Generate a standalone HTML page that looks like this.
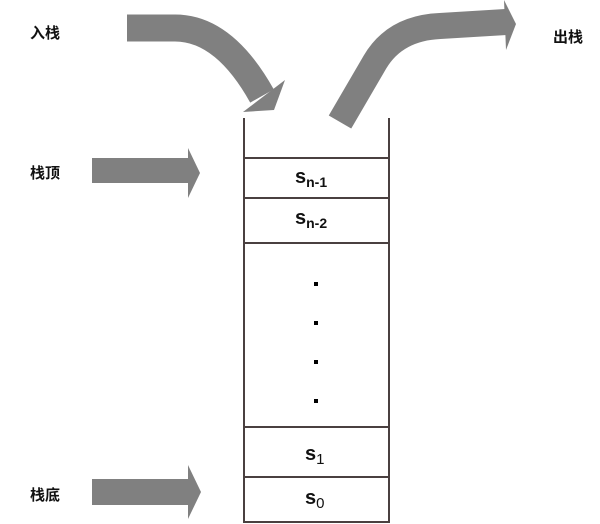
<!DOCTYPE html>
<html><head><meta charset="utf-8"><style>
body{margin:0;background:#fff;}
svg{display:block}
text{font-family:"Liberation Sans","Noto Sans CJK SC",sans-serif;}
</style></head><body>
<svg width="600" height="524" viewBox="0 0 600 524" xmlns="http://www.w3.org/2000/svg">
<g fill="#808080" stroke="none">
<path d="M127 28 L175 28 Q224 28 262 96" fill="none" stroke="#808080" stroke-width="27"/>
<polygon points="243,112 285,80 274,110"/>
<path d="M340 122 L375 62 Q395 28 440 26 L506 22" fill="none" stroke="#808080" stroke-width="26"/>
<polygon points="504,0 516,24 506,50"/>
<rect x="92" y="158" width="99" height="25"/>
<polygon points="188,148 200,173 188,198"/>
<rect x="92" y="479" width="99" height="26"/>
<polygon points="188,465 201,492 188,519"/>
</g>
<rect x="230" y="112" width="60" height="8" fill="#fff"/>
<g stroke="#4a4040" stroke-width="2" fill="none">
<line x1="244" y1="118" x2="244" y2="523"/>
<line x1="389" y1="118" x2="389" y2="523"/>
<line x1="244" y1="158" x2="389" y2="158"/>
<line x1="244" y1="198" x2="389" y2="198"/>
<line x1="244" y1="243" x2="389" y2="243"/>
<line x1="244" y1="427" x2="389" y2="427"/>
<line x1="244" y1="477" x2="389" y2="477"/>
<line x1="244" y1="522" x2="389" y2="522"/>
</g>
<g fill="#000">
<rect x="314" y="282" width="4" height="4"/>
<rect x="314" y="321" width="4" height="4"/>
<rect x="314" y="360" width="4" height="4"/>
<rect x="314" y="399" width="4" height="4"/>
</g>
<g font-size="15" font-weight="bold" fill="#111">
<text x="30" y="38">入栈</text>
<text x="553" y="42">出栈</text>
<text x="30" y="178">栈顶</text>
<text x="30" y="500">栈底</text>
</g>
<g font-size="20" font-weight="bold" fill="#111">
<text x="295" y="183">s<tspan font-size="14" dy="4">n-1</tspan></text>
<text x="295" y="224">s<tspan font-size="14" dy="4">n-2</tspan></text>
<text x="305" y="460">s<tspan font-size="15" font-weight="normal" dy="4">1</tspan></text>
<text x="305" y="504">s<tspan font-size="15" font-weight="normal" dy="4">0</tspan></text>
</g>
</svg>
</body></html>
